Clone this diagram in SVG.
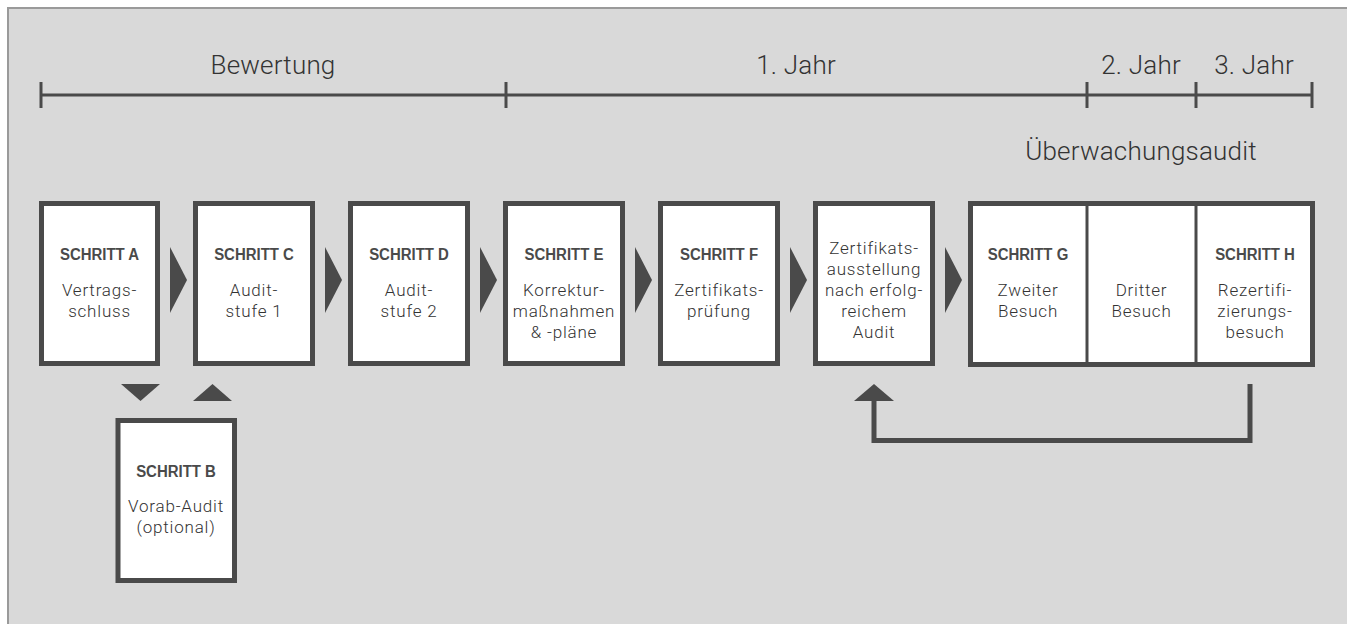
<svg xmlns="http://www.w3.org/2000/svg" width="1347" height="624" viewBox="0 0 1347 624">
<style>
.bg{fill:#d9d9d9;stroke:#9a9a9a;stroke-width:2}
.box{fill:#fff;stroke:#4a4a4a;stroke-width:5}
.div{stroke:#4a4a4a;stroke-width:3}
.tl{stroke:#4a4a4a;stroke-width:3;fill:none}
.head{font-family:Roboto,"Liberation Sans",sans-serif;font-weight:300;font-size:26px;fill:#333;text-anchor:middle;letter-spacing:0.2px}
.step{font-family:"Liberation Sans",sans-serif;font-weight:bold;font-size:17px;fill:#4a4a4a;text-anchor:middle}
.body{font-family:Roboto,"Liberation Sans",sans-serif;font-weight:300;font-size:17px;fill:#333;text-anchor:middle;letter-spacing:0.8px}
.tri{fill:#4a4a4a}
.fb{stroke:#4a4a4a;stroke-width:5;fill:none}
</style>
<rect class="bg" x="8" y="8" width="1345" height="630"/>
<g id="timeline">
<line class="tl" x1="41" y1="95" x2="1313" y2="95"/>
<line class="tl" x1="41" y1="82" x2="41" y2="108"/>
<line class="tl" x1="506" y1="82" x2="506" y2="108"/>
<line class="tl" x1="1087" y1="82" x2="1087" y2="108"/>
<line class="tl" x1="1196" y1="82" x2="1196" y2="108"/>
<line class="tl" x1="1312" y1="82" x2="1312" y2="108"/>
<text class="head" x="273" y="74">Bewertung</text>
<text class="head" x="796" y="74">1. Jahr</text>
<text class="head" x="1141" y="74">2. Jahr</text>
<text class="head" x="1254" y="74">3. Jahr</text>
<text class="head" x="1141" y="160">Überwachungsaudit</text>
</g>
<g id="connectors">
<polygon class="tri" points="170,247 187,280 170,313"/>
<polygon class="tri" points="325,247 342,280 325,313"/>
<polygon class="tri" points="480,247 497,280 480,313"/>
<polygon class="tri" points="635,247 652,280 635,313"/>
<polygon class="tri" points="790,247 807,280 790,313"/>
<polygon class="tri" points="945,247 962,280 945,313"/>
<polygon class="tri" points="121,384 160,384 140.5,401"/>
<polygon class="tri" points="193,401 232,401 212.5,384"/>
<polyline class="fb" points="1250,384 1250,440.5 874,440.5 874,398"/>
<polygon class="tri" points="854,401 894,401 874,384"/>
</g>
<g id="schritt-a">
<rect class="box" x="41.5" y="203.5" width="116" height="160"/>
<text class="step" transform="translate(99.5 260) scale(0.88 1)">SCHRITT A</text>
<text class="body" x="99.5" y="296">Vertrags-</text>
<text class="body" x="99.5" y="317">schluss</text>
</g>
<g id="schritt-c">
<rect class="box" x="195.5" y="203.5" width="117" height="160"/>
<text class="step" transform="translate(254 260) scale(0.88 1)">SCHRITT C</text>
<text class="body" x="254" y="296">Audit-</text>
<text class="body" x="254" y="317">stufe 1</text>
</g>
<g id="schritt-d">
<rect class="box" x="350.5" y="203.5" width="117" height="160"/>
<text class="step" transform="translate(409 260) scale(0.88 1)">SCHRITT D</text>
<text class="body" x="409" y="296">Audit-</text>
<text class="body" x="409" y="317">stufe 2</text>
</g>
<g id="schritt-e">
<rect class="box" x="505.5" y="203.5" width="117" height="160"/>
<text class="step" transform="translate(564 260) scale(0.88 1)">SCHRITT E</text>
<text class="body" x="564" y="296">Korrektur-</text>
<text class="body" x="564" y="317">maßnahmen</text>
<text class="body" x="564" y="338">&amp; -pläne</text>
</g>
<g id="schritt-f">
<rect class="box" x="660.5" y="203.5" width="117" height="160"/>
<text class="step" transform="translate(719 260) scale(0.88 1)">SCHRITT F</text>
<text class="body" x="719" y="296">Zertifikats-</text>
<text class="body" x="719" y="317">prüfung</text>
</g>
<g id="zertifikat">
<rect class="box" x="815.5" y="203.5" width="117" height="160"/>
<text class="body" x="874" y="254">Zertifikats-</text>
<text class="body" x="874" y="275">ausstellung</text>
<text class="body" x="874" y="296">nach erfolg-</text>
<text class="body" x="874" y="317">reichem</text>
<text class="body" x="874" y="338">Audit</text>
</g>
<g id="ueberwachung">
<rect class="box" x="970.5" y="203.5" width="342" height="161"/>
<line class="div" x1="1087" y1="204" x2="1087" y2="364"/>
<line class="div" x1="1196" y1="204" x2="1196" y2="364"/>
</g>
<g id="schritt-g">
<text class="step" transform="translate(1028 260) scale(0.88 1)">SCHRITT G</text>
<text class="body" x="1028" y="296">Zweiter</text>
<text class="body" x="1028" y="317">Besuch</text>
</g>
<g id="dritter-besuch">
<text class="body" x="1141.5" y="296">Dritter</text>
<text class="body" x="1141.5" y="317">Besuch</text>
</g>
<g id="schritt-h">
<text class="step" transform="translate(1255 260) scale(0.88 1)">SCHRITT H</text>
<text class="body" x="1255" y="296">Rezertifi-</text>
<text class="body" x="1255" y="317">zierungs-</text>
<text class="body" x="1255" y="338">besuch</text>
</g>
<g id="schritt-b">
<rect class="box" x="118" y="420.5" width="116.5" height="160"/>
<text class="step" transform="translate(176 477) scale(0.88 1)">SCHRITT B</text>
<text class="body" x="176" y="512">Vorab-Audit</text>
<text class="body" x="176" y="533">(optional)</text>
</g>
</svg>
